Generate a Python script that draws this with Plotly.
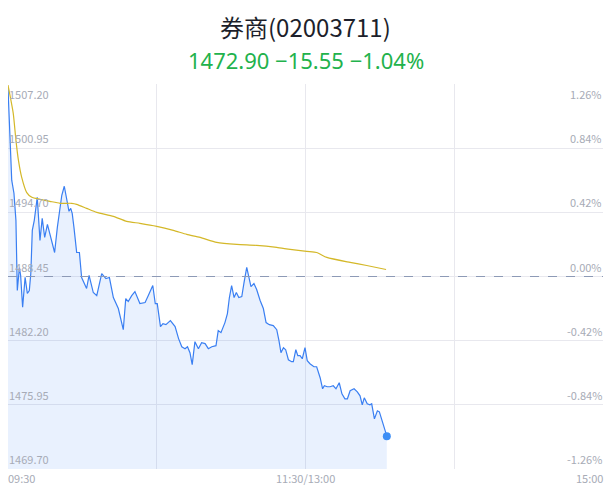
"""
Intraday line chart for 券商(02003711), rebuilt with plotly.
"""

import plotly.graph_objects as go

# ── Data ─────────────────────────────────────────────────────────────────────
PREV_CLOSE = 1488.45
LAST_PRICE = 1472.90

# minutes after 09:30 (lunch break removed) and price
price_minutes = [
    0, 1.5, 2.4, 3.2, 3.75, 4.6, 5.1, 5.9, 6.9, 7.8, 8.6, 9.2, 9.8, 10.6, 11.8,
    12.9, 13.8, 14.8, 15.9, 16.9, 17.9, 18.8, 19.9, 20.7, 21.7, 22.7, 23.7,
    24.6, 25.3, 25.9, 26.6, 27.7, 28.8, 29.7, 31.7, 32.7, 34.4, 35.8, 37.8,
    39.5, 40.9, 42.5, 44.5, 46.5, 47.5, 48.5, 49.9, 51.2, 53.2, 55.3, 56.6,
    58.4, 59.4, 60.2, 61.5, 62.5, 63.7, 65.5, 67.4, 68.8, 70.1, 71.4, 72.4,
    73.4, 74.3, 75.4, 76.8, 78.1, 79.5, 80.8, 82.2, 83.9, 84.8, 85.9, 87.5,
    88.5, 89.3, 90.2, 91.2, 92.1, 93.1, 94.3, 95.2, 96.3, 97.2, 98.0, 99.2,
    100.3, 101.7, 103.0, 104.1, 105.4, 107.0, 108.4, 109.3, 110.1, 111.1,
    112.0, 113.1, 114.4, 115.1, 116.1, 116.9, 117.8, 118.7, 119.8, 120.7,
    121.8, 123.4, 124.5, 125.9, 126.9, 127.6, 128.8, 129.9, 131.2, 132.3,
    133.6, 134.7, 135.9, 136.9, 138.0, 139.6, 140.9, 142.0, 142.9, 143.7,
    144.9, 146.0, 146.7, 147.8, 149.0, 149.8, 151.0, 152.8,
]
prices = [
    1506.81, 1497.83, 1496.56, 1493.92, 1487.08, 1489.33, 1488.55, 1485.45,
    1488.38, 1486.79, 1487.08, 1488.74, 1492.94, 1493.92, 1496.16, 1491.97,
    1494.11, 1492.26, 1493.53, 1492.55, 1491.48, 1490.79, 1493.24, 1494.60,
    1496.36, 1497.24, 1495.87, 1494.80, 1495.09, 1494.60, 1493.24, 1490.79,
    1490.79, 1488.35, 1487.28, 1488.55, 1486.89, 1486.59, 1488.74, 1488.25,
    1488.35, 1486.40, 1485.33, 1483.27, 1486.30, 1486.01, 1486.59, 1486.98,
    1485.81, 1485.91, 1486.59, 1487.57, 1485.81, 1485.81, 1483.57, 1483.86,
    1483.76, 1484.15, 1483.57, 1482.40, 1481.61, 1481.42, 1481.61, 1481.03,
    1479.86, 1482.10, 1481.42, 1482.00, 1481.91, 1481.42, 1481.61, 1481.71,
    1483.18, 1482.98, 1483.96, 1484.84, 1486.40, 1487.57, 1486.40, 1486.89,
    1486.40, 1486.50, 1487.86, 1489.33, 1488.35, 1487.47, 1487.77, 1487.18,
    1486.11, 1485.33, 1483.96, 1483.76, 1483.67, 1483.27, 1482.20, 1481.03,
    1481.52, 1481.32, 1480.34, 1480.15, 1480.15, 1481.32, 1480.74, 1480.74,
    1480.44, 1481.52, 1480.25, 1479.95, 1479.66, 1479.66, 1478.59, 1477.51,
    1477.81, 1477.71, 1477.71, 1477.81, 1477.51, 1478.10, 1477.02, 1476.54,
    1476.54, 1477.32, 1477.51, 1477.22, 1476.83, 1475.95, 1476.63, 1476.05,
    1475.95, 1476.05, 1474.58, 1475.36, 1475.27, 1474.29, 1472.90,
]

avg_minutes = [
    0, 2.1, 3.2, 4.2, 5.5, 7.5, 9.6, 12.9, 16.9, 21.0, 25.7, 27.7, 31.7, 35.8,
    42.5, 47.9, 53.2, 60.0, 66.7, 72.1, 77.5, 84.2, 92.3, 100.3, 108.4, 113.8,
    120.5, 124.5, 128.6, 138.0, 144.7, 152.5,
]
avg_prices = [
    1507.10, 1504.37, 1501.73, 1499.78, 1498.12, 1496.65, 1496.16, 1495.97,
    1495.77, 1495.58, 1495.58, 1495.48, 1495.09, 1494.70, 1494.31, 1493.82,
    1493.63, 1493.34, 1492.94, 1492.55, 1492.26, 1491.77, 1491.57, 1491.48,
    1491.28, 1491.09, 1490.89, 1490.79, 1490.31, 1489.82, 1489.52, 1489.13,
]

price_ticks = [1507.20, 1500.95, 1494.70, 1488.45, 1482.20, 1475.95, 1469.70]
pct_ticks = ["1.26%", "0.84%", "0.42%", "0.00%", "-0.42%", "-0.84%", "-1.26%"]
time_tick_vals = [0, 120, 240]
time_tick_text = ["09:30", "11:30/13:00", "15:00"]
grid_minutes = [0, 60, 120, 180, 240]

# ── Style ────────────────────────────────────────────────────────────────────
FONT = "Noto Sans CJK SC, Noto Sans, sans-serif"
BLUE = "#3a7ff2"
YELLOW = "#d4b829"
GRID = "#e8e8ee"
LABEL = "#a7abb6"
GREEN = "#22b24c"

fig = go.Figure()
fig.add_trace(go.Scatter(
    x=price_minutes, y=prices, mode="lines",
    line=dict(color=BLUE, width=1.2),
    fill="tozeroy", fillcolor="rgba(58,127,242,0.11)",
    hoverinfo="skip",
))
fig.add_trace(go.Scatter(
    x=avg_minutes, y=avg_prices, mode="lines",
    line=dict(color=YELLOW, width=1.2, shape="spline", smoothing=0.6),
    hoverinfo="skip",
))
fig.add_trace(go.Scatter(
    x=[price_minutes[-1]], y=[prices[-1]], mode="markers",
    marker=dict(color="#3d8ef5", size=8),
    hoverinfo="skip",
))

fig.add_hline(y=PREV_CLOSE, line=dict(color="#8d9ab6", width=1, dash="dash"))

# price labels on the left, percent labels on the right (inside the plot)
for i, (p, pct) in enumerate(zip(price_ticks, pct_ticks)):
    anchor = "top" if i == 0 else "bottom"
    fig.add_annotation(x=0, xref="paper", y=p, yref="y", text=f"{p:.2f}",
                       showarrow=False, xanchor="left", yanchor=anchor,
                       xshift=-1, font=dict(size=11, color=LABEL, family=FONT))
    fig.add_annotation(x=1, xref="paper", y=p, yref="y", text=pct,
                       showarrow=False, xanchor="right", yanchor=anchor,
                       xshift=1, font=dict(size=11, color=LABEL, family=FONT))

for v, t, a in zip(time_tick_vals, time_tick_text, ["left", "center", "right"]):
    fig.add_annotation(x=v, xref="x", y=0, yref="paper", text=t,
                       showarrow=False, xanchor=a, yanchor="top", yshift=1,
                       xshift={"left": -2, "center": 0, "right": 2}[a],
                       font=dict(size=11, color=LABEL, family=FONT))

# title and quote line
chg = LAST_PRICE - PREV_CLOSE
fig.add_annotation(x=0.5, xref="paper", y=1.1506, yref="paper",
                   text="券商(02003711)", showarrow=False,
                   xanchor="center", yanchor="middle",
                   font=dict(size=24, color="#1d1f2b", family=FONT))
fig.add_annotation(x=0.5, xref="paper", y=1.0623, yref="paper",
                   text="%.2f −%.2f −%.2f%%" % (LAST_PRICE, -chg,
                                               -chg / PREV_CLOSE * 100),
                   showarrow=False, xanchor="center", yanchor="middle",
                   font=dict(size=22, color=GREEN,
                             family="Noto Sans, sans-serif"))

fig.update_layout(
    width=611, height=492,
    margin=dict(l=8, r=8, t=84, b=23),
    paper_bgcolor="white", plot_bgcolor="white",
    showlegend=False,
    font=dict(family=FONT),
    xaxis=dict(
        range=[0, 240], tickvals=grid_minutes, showticklabels=False,
        showgrid=True, gridcolor=GRID, gridwidth=1, zeroline=False,
        fixedrange=True,
    ),
    yaxis=dict(
        range=[price_ticks[-1], price_ticks[0]], tickvals=price_ticks,
        showticklabels=False, showgrid=True, gridcolor=GRID, gridwidth=1,
        zeroline=False, fixedrange=True,
    ),
)

fig.write_html("out.html", config={"displayModeBar": False},
               post_script="document.body.style.margin='0';")
